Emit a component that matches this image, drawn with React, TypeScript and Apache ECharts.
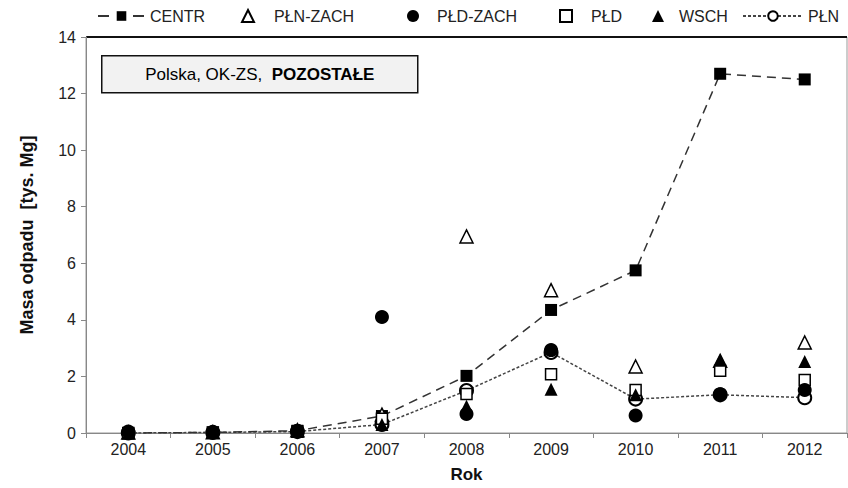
import React, { useEffect, useRef } from "react";
import * as echarts from "echarts";

const years = ["2004", "2005", "2006", "2007", "2008", "2009", "2010", "2011", "2012"];
const centr = [0.0, 0.02, 0.08, 0.6, 2.02, 4.35, 5.75, 12.7, 12.5];
const plnZach = [0.02, 0.03, 0.1, 0.65, 6.95, 5.05, 2.35, 2.55, 3.2];
const pldZach = [0.05, 0.03, 0.08, 4.1, 0.67, 2.93, 0.62, 1.37, 1.52];
const pld = [0.0, 0.02, 0.05, 0.5, 1.38, 2.08, 1.52, 2.2, 1.87];
const wsch = [0.0, 0.02, 0.05, 0.3, 0.95, 1.55, 1.35, 2.57, 2.53];
const pln = [0.0, 0.02, 0.05, 0.3, 1.5, 2.85, 1.2, 1.35, 1.25];

const FONT = "Liberation Sans, Arial, sans-serif";

export default function App() {
  const ref = useRef<HTMLDivElement>(null);
  useEffect(() => {
    if (!ref.current) return;
    const chart = echarts.init(ref.current, null, { renderer: "svg" });
    const legendText = { fontFamily: FONT, fontSize: 16, color: "#222" };
    const mkLegend = (name: string, left: number, w: number, pad: number) => ({
      data: [name],
      left,
      top: 8,
      padding: 0,
      itemWidth: w,
      itemHeight: 12,
      selectedMode: false,
      textStyle: { ...legendText, padding: [0, 0, 0, pad] },
    });
    const hollow = { color: "#fff", borderColor: "#000", borderWidth: 1.5, opacity: 1 };
    chart.setOption({
      animation: false,
      backgroundColor: "#fff",
      legend: [
        { ...mkLegend("CENTR", 97, 47, 0), lineStyle: { type: [11, 24] } },
        mkLegend("PŁN-ZACH", 241, 12, 15),
        mkLegend("PŁD-ZACH", 407, 12, 13),
        mkLegend("PŁD", 559, 12, 14),
        mkLegend("WSCH", 652, 12, 10),
        mkLegend("PŁN", 742, 60, 0),
      ],
      grid: {
        left: 86,
        right: 1,
        top: 37,
        bottom: 52,
        show: true,
        borderColor: "#999",
        borderWidth: 1,
      },
      xAxis: {
        type: "category",
        data: years,
        boundaryGap: true,
        name: "Rok",
        nameLocation: "middle",
        nameGap: 33,
        nameTextStyle: { fontFamily: FONT, fontSize: 17, fontWeight: "bold", color: "#111" },
        axisLine: { lineStyle: { color: "#888", width: 1 } },
        axisTick: { show: true, length: 5, lineStyle: { color: "#888" } },
        axisLabel: { fontFamily: FONT, fontSize: 16, color: "#222", margin: 8 },
        splitLine: { show: false },
      },
      yAxis: {
        type: "value",
        min: 0,
        max: 14,
        interval: 2,
        name: "Masa odpadu  [tys. Mg]",
        nameLocation: "middle",
        nameRotate: 90,
        nameGap: 50,
        nameTextStyle: { fontFamily: FONT, fontSize: 18, fontWeight: "bold", color: "#111" },
        axisLine: { show: true, lineStyle: { color: "#888", width: 1 } },
        axisTick: { show: true, length: 5, lineStyle: { color: "#888" } },
        axisLabel: { fontFamily: FONT, fontSize: 16, color: "#222", margin: 10 },
        splitLine: {
          show: true,
          lineStyle: {
            color: ["transparent", "transparent", "transparent", "transparent", "transparent", "transparent", "transparent", "#111"],
            width: 2,
          },
        },
      },
      graphic: [
        {
          type: "group",
          left: 101,
          top: 55,
          children: [
            {
              type: "rect",
              shape: { x: 0, y: 0, width: 316, height: 37 },
              style: { fill: "#f2f2f2", stroke: "#111", lineWidth: 1.5 },
            },
            {
              type: "text",
              x: 158,
              y: 19,
              style: {
                text: "{n|Polska, OK-ZS,  }{b|POZOSTAŁE}",
                align: "center",
                verticalAlign: "middle",
                rich: {
                  n: { fontFamily: FONT, fontSize: 17, color: "#222" },
                  b: { fontFamily: FONT, fontSize: 17, fontWeight: "bold", color: "#111" },
                },
              },
            },
          ],
        },
      ],
      series: [
        {
          name: "CENTR",
          type: "line",
          data: centr,
          symbol: "rect",
          symbolSize: 12,
          itemStyle: { color: "#000", opacity: 1 },
          lineStyle: { color: "#333", width: 1.5, type: [9, 6] },
          z: 2,
        },
        {
          name: "PŁN-ZACH",
          type: "scatter",
          data: plnZach,
          symbol: "triangle",
          symbolSize: 13,
          itemStyle: hollow,
          z: 3,
        },
        {
          name: "PŁD-ZACH",
          type: "scatter",
          data: pldZach,
          symbol: "circle",
          symbolSize: 14,
          itemStyle: { color: "#000", opacity: 1 },
          z: 4,
        },
        {
          name: "PŁD",
          type: "scatter",
          data: pld,
          symbol: "rect",
          symbolSize: 11,
          itemStyle: hollow,
          z: 3,
        },
        {
          name: "WSCH",
          type: "scatter",
          data: wsch,
          symbol: "triangle",
          symbolSize: 13,
          itemStyle: { color: "#000", opacity: 1 },
          z: 4,
        },
        {
          name: "PŁN",
          type: "line",
          data: pln,
          symbol: "emptyCircle",
          symbolSize: 13,
          itemStyle: { color: "#000", borderColor: "#000", borderWidth: 1.5, opacity: 1 },
          lineStyle: { color: "#444", width: 1.5, type: [3, 2] },
          z: 1,
        },
      ],
    });
    return () => chart.dispose();
  }, []);
  return <div ref={ref} style={{ width: 848, height: 488, position: "absolute", left: 0, top: 0 }} />;
}
